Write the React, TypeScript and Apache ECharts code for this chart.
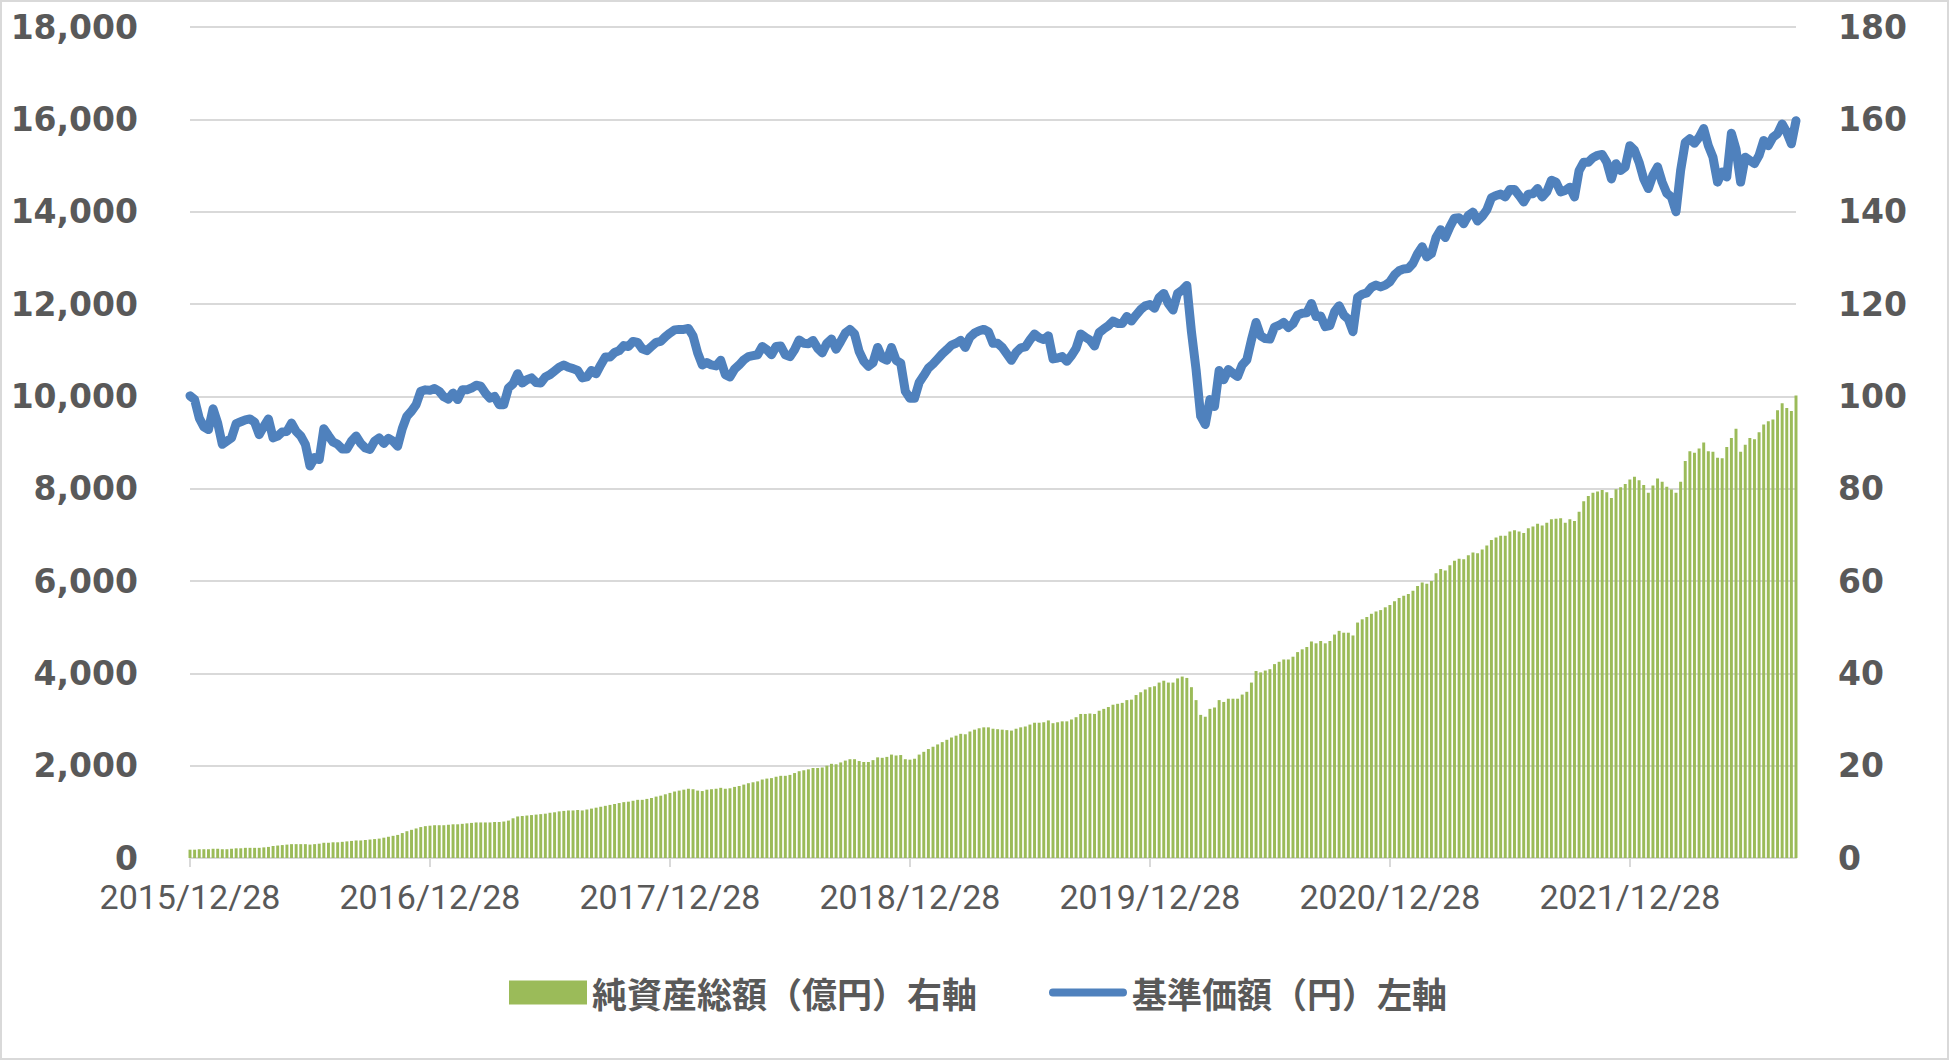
import React, { useEffect, useRef } from "react";
import * as echarts from "echarts";

// Year starts (each labelled tick is YYYY/12/28); weekly observations
const startYears = [2015, 2016, 2017, 2018, 2019, 2020, 2021];
const weeksPerYear = 52;

// 基準価額（円） – weekly, left axis
const navYen = [
  10010, 9930, 9530, 9340, 9280, 9730, 9420, 8960, 9030, 9100,
  9410, 9450, 9490, 9510, 9440, 9170, 9350, 9510, 9100, 9140,
  9230, 9240, 9420, 9240, 9140, 8960, 8490, 8670, 8630, 9300,
  9150, 9010, 8960, 8860, 8860, 9030, 9140, 8980, 8880, 8850,
  9030, 9100, 8980, 9090, 9030, 8920, 9300, 9570, 9680, 9820,
  10110, 10140, 10130, 10170, 10110, 9990, 9940, 10070, 9930, 10140,
  10140, 10180, 10240, 10220, 10070, 9960, 10000, 9820, 9820, 10180,
  10270, 10490, 10290, 10360, 10400, 10300, 10290, 10420, 10470, 10550,
  10630, 10680, 10630, 10600, 10560, 10400, 10420, 10560,
  10490, 10680, 10850, 10850, 10950, 10990, 11100, 11080, 11190, 11170,
  11030, 10990, 11080, 11170, 11190, 11290, 11370, 11440, 11450, 11450,
  11470, 11310, 10940, 10680, 10730, 10680, 10660, 10780, 10470, 10420,
  10590, 10680, 10790, 10860, 10880, 10900, 11080, 11010, 10900, 11080,
  11090, 10900, 10860, 11010, 11220, 11150, 11140, 11210, 11040, 10940,
  11150, 11240, 11020, 11190, 11370, 11450, 11350, 10970, 10760, 10650,
  10730, 11060, 10830, 10780, 11060, 10780, 10720, 10110, 9960, 9960,
  10300, 10450, 10610, 10700, 10810, 10920, 11010, 11110, 11150, 11210,
  11060, 11280, 11370, 11420, 11450, 11400, 11150,
  11150, 11060, 10920, 10780, 10950, 11050, 11070, 11220, 11350, 11270,
  11230, 11310, 10810, 10830, 10860, 10760, 10880, 11040, 11350, 11280,
  11220, 11090, 11380, 11460, 11530, 11630, 11580, 11580, 11730, 11630,
  11760, 11880, 11960, 11990, 11910, 12140, 12230, 12010, 11870, 12230,
  12300, 12400, 11400, 10580, 9570, 9390, 9930, 9780, 10560, 10360,
  10580, 10500, 10430, 10680, 10790, 11220, 11600, 11310, 11250, 11240,
  11500, 11540, 11600, 11490, 11570, 11760, 11800, 11810, 12010, 11730,
  11740, 11510, 11530, 11830, 11960, 11760, 11670, 11400, 12140, 12210,
  12240, 12360, 12410, 12370, 12410, 12480, 12630,
  12720, 12760, 12770, 12880, 13090, 13240, 13020, 13090, 13440, 13610,
  13440, 13670, 13860, 13870, 13740, 13920, 13990, 13800, 13900, 14040,
  14300, 14350, 14380, 14320, 14480, 14480, 14350, 14210, 14380, 14390,
  14500, 14320, 14430, 14680, 14640, 14430, 14460, 14530, 14320, 14890,
  15070, 15070, 15170, 15220, 15240, 15070, 14710, 15040, 14890, 14970,
  15430, 15330, 15070, 14710, 14500, 14790, 14970, 14640, 14400, 14320,
  14000, 14890, 15500, 15580, 15480, 15610, 15800, 15430, 15180, 14640,
  14860, 14750, 15700, 15350, 14640, 15180, 15110, 15040, 15220, 15540,
  15430, 15610, 15690, 15900, 15720, 15470, 15970,
];

// 純資産総額（億円） – weekly, right axis
const netAssets = [
  1.8, 1.8, 1.9, 1.9, 1.9, 2.0, 2.0, 1.9, 1.9, 2.0,
  2.1, 2.1, 2.2, 2.2, 2.2, 2.2, 2.3, 2.4, 2.6, 2.7,
  2.8, 2.9, 3.0, 3.0, 3.0, 3.0, 2.9, 3.0, 3.1, 3.3,
  3.3, 3.4, 3.4, 3.5, 3.6, 3.7, 3.8, 3.8, 3.9, 4.0,
  4.1, 4.2, 4.4, 4.6, 4.8, 5.0, 5.4, 5.8, 6.1, 6.4,
  6.7, 6.9,
  7.0, 7.1, 7.1, 7.1, 7.2, 7.3, 7.3, 7.4, 7.5, 7.6,
  7.7, 7.7, 7.7, 7.7, 7.8, 7.8, 7.9, 8.1, 8.6, 9.0,
  9.1, 9.2, 9.3, 9.4, 9.5, 9.6, 9.8, 9.9, 10.1, 10.2,
  10.3, 10.3, 10.4, 10.3, 10.5, 10.7, 10.9, 11.1, 11.3, 11.5,
  11.7, 11.9, 12.1, 12.2, 12.4, 12.6, 12.6, 12.8, 13.0, 13.3,
  13.5, 13.8, 14.1, 14.4, 14.6, 14.8, 15.0, 14.9, 14.6, 14.5,
  14.8, 14.9, 15.0, 15.2, 15.0, 15.1, 15.4, 15.6, 15.9, 16.2,
  16.4, 16.6, 17.0, 17.2, 17.3, 17.6, 17.8, 17.8, 18.0, 18.4,
  18.8, 19.0, 19.2, 19.5, 19.5, 19.6, 20.0, 20.4, 20.3, 20.7,
  21.1, 21.4, 21.4, 21.0, 20.8, 20.8, 21.2, 21.8, 21.7, 21.9,
  22.4, 22.2, 22.3, 21.4, 21.3, 21.5, 22.4, 23.0, 23.6, 24.1,
  24.6, 25.1, 25.6, 26.1, 26.5, 26.9, 26.8, 27.4, 27.8, 28.1,
  28.3, 28.3, 28.0, 27.9, 27.8, 27.7, 27.6, 28.0, 28.3, 28.5,
  28.9, 29.3, 29.3, 29.4, 29.8, 29.2, 29.4, 29.6, 29.6, 30.0,
  30.5, 31.2, 31.2, 31.3, 31.2, 31.9, 32.3, 32.7, 33.2, 33.4,
  33.6, 34.2, 34.3, 35.3, 35.9, 36.5, 37.0, 37.2, 38.0, 38.4,
  38.0, 38.0, 38.9, 39.3, 39.0, 37.0, 34.2, 31.0, 30.6, 32.3,
  32.6, 34.2, 33.8, 34.5, 34.5, 34.5, 35.4, 36.0, 38.0, 40.5,
  40.2, 40.6, 40.9, 42.0, 42.5, 43.0, 43.0, 43.6, 44.6, 45.2,
  45.7, 46.9, 46.5, 47.0, 46.5, 47.0, 48.4, 49.2, 48.8, 48.8,
  48.2, 51.0, 51.7, 52.2, 52.9, 53.4, 53.7, 54.3, 54.8, 55.6,
  56.3, 56.8, 57.2, 57.9, 58.9, 59.7, 59.4, 60.0, 61.7, 62.6,
  62.3, 63.4, 64.4, 64.8, 64.7, 65.6, 66.2, 66.0, 66.8, 67.7,
  68.9, 69.4, 69.8, 69.8, 70.7, 71.0, 70.7, 70.4, 71.4, 71.8,
  72.4, 72.0, 72.6,
  73.4, 73.5, 73.6, 72.6, 73.4, 73.0, 75.0, 77.3, 78.4, 79.1,
  79.4, 79.7, 79.2, 78.0, 79.9, 80.3, 81.0, 82.0, 82.6, 81.8,
  80.8, 79.1, 80.7, 82.2, 81.5, 80.4, 79.8, 79.1, 81.5, 86.0,
  88.1, 87.8, 88.7, 90.0, 88.1, 88.0, 86.7, 86.6, 89.0, 91.0,
  93.0, 88.0, 89.5, 91.0, 90.7, 92.2, 93.9, 94.6, 95.0, 97.0,
  98.5, 97.5, 96.8, 100.2,
];

const barName = "純資産総額（億円）右軸";
const lineName = "基準価額（円）左軸";

function pad(n: number) {
  return String(n).padStart(2, "0");
}

function buildDates(n: number): string[] {
  const out: string[] = [];
  for (const y of startYears) {
    for (let k = 0; k < weeksPerYear && out.length < n; k++) {
      const d = new Date(Date.UTC(y, 11, 28 + 7 * k));
      out.push(`${d.getUTCFullYear()}/${pad(d.getUTCMonth() + 1)}/${pad(d.getUTCDate())}`);
    }
  }
  return out;
}

const dates = buildDates(navYen.length);
const isYearTick = (_i: number, v: string) => typeof v === "string" && v.endsWith("/12/28");

const lineIcon =
  "path://M4,0 H76 A4,4 0 0 1 76,8 H4 A4,4 0 0 1 4,0 Z";

export default function App() {
  const ref = useRef<HTMLDivElement>(null);
  useEffect(() => {
    document.body.style.margin = "0";
    if (!ref.current) return;
    const chart = echarts.init(ref.current, null, { renderer: "svg" });
    const numFont = {
      color: "#595959",
      fontFamily: "DejaVu Sans",
      fontWeight: "bold" as const,
      fontSize: 33,
      lineHeight: 26,
      padding: [0, 0, 8, 0],
    };
    chart.setOption({
      animation: false,
      backgroundColor: "#ffffff",
      graphic: [
        {
          type: "rect",
          shape: { x: 1, y: 1, width: 1947, height: 1058 },
          style: { fill: "none", stroke: "#d9d9d9", lineWidth: 2 },
          silent: true,
          z: 100,
        },
      ],
      grid: { left: 190, right: 154, top: 27, bottom: 204, containLabel: false },
      legend: {
        left: 504,
        top: 970,
        itemWidth: 78,
        itemHeight: 24,
        itemGap: 72,
        textStyle: { color: "#595959", fontSize: 35, fontWeight: "bold", fontFamily: "Noto Sans CJK JP" },
        data: [
          { name: barName, icon: "rect" },
          { name: lineName, icon: lineIcon, itemStyle: { color: "#4F81BD" } },
        ],
      },
      xAxis: {
        type: "category",
        data: dates,
        boundaryGap: false,
        axisLine: { lineStyle: { color: "#d9d9d9", width: 2 } },
        axisTick: { interval: isYearTick, length: 9, lineStyle: { color: "#d9d9d9", width: 2 } },
        axisLabel: {
          interval: isYearTick,
          color: "#595959",
          fontFamily: "Roboto",
          fontSize: 34,
          lineHeight: 34,
          margin: 22,
        },
        splitLine: { show: false },
      },
      yAxis: [
        {
          type: "value",
          position: "left",
          min: 0,
          max: 18000,
          interval: 2000,
          axisLine: { show: false },
          axisTick: { show: false },
          axisLabel: { ...numFont, margin: 52, formatter: (v: number) => v.toLocaleString("en-US") },
          splitLine: { lineStyle: { color: "#d9d9d9", width: 2 } },
        },
        {
          type: "value",
          position: "right",
          min: 0,
          max: 180,
          interval: 20,
          axisLine: { show: false },
          axisTick: { show: false },
          axisLabel: { ...numFont, margin: 42 },
          splitLine: { show: false },
        },
      ],
      series: [
        {
          name: barName,
          type: "bar",
          yAxisIndex: 1,
          data: netAssets,
          barCategoryGap: "36%",
          itemStyle: { color: "#9BBB59" },
        },
        {
          name: lineName,
          type: "line",
          yAxisIndex: 0,
          data: navYen,
          symbol: "none",
          showSymbol: false,
          lineStyle: { color: "#4F81BD", width: 9, join: "round", cap: "round" },
          itemStyle: { color: "#4F81BD" },
        },
      ],
    });
    return () => chart.dispose();
  }, []);
  return (
    <div
      ref={ref}
      style={{ position: "absolute", left: 0, top: 0, width: 1950, height: 1062 }}
    />
  );
}
